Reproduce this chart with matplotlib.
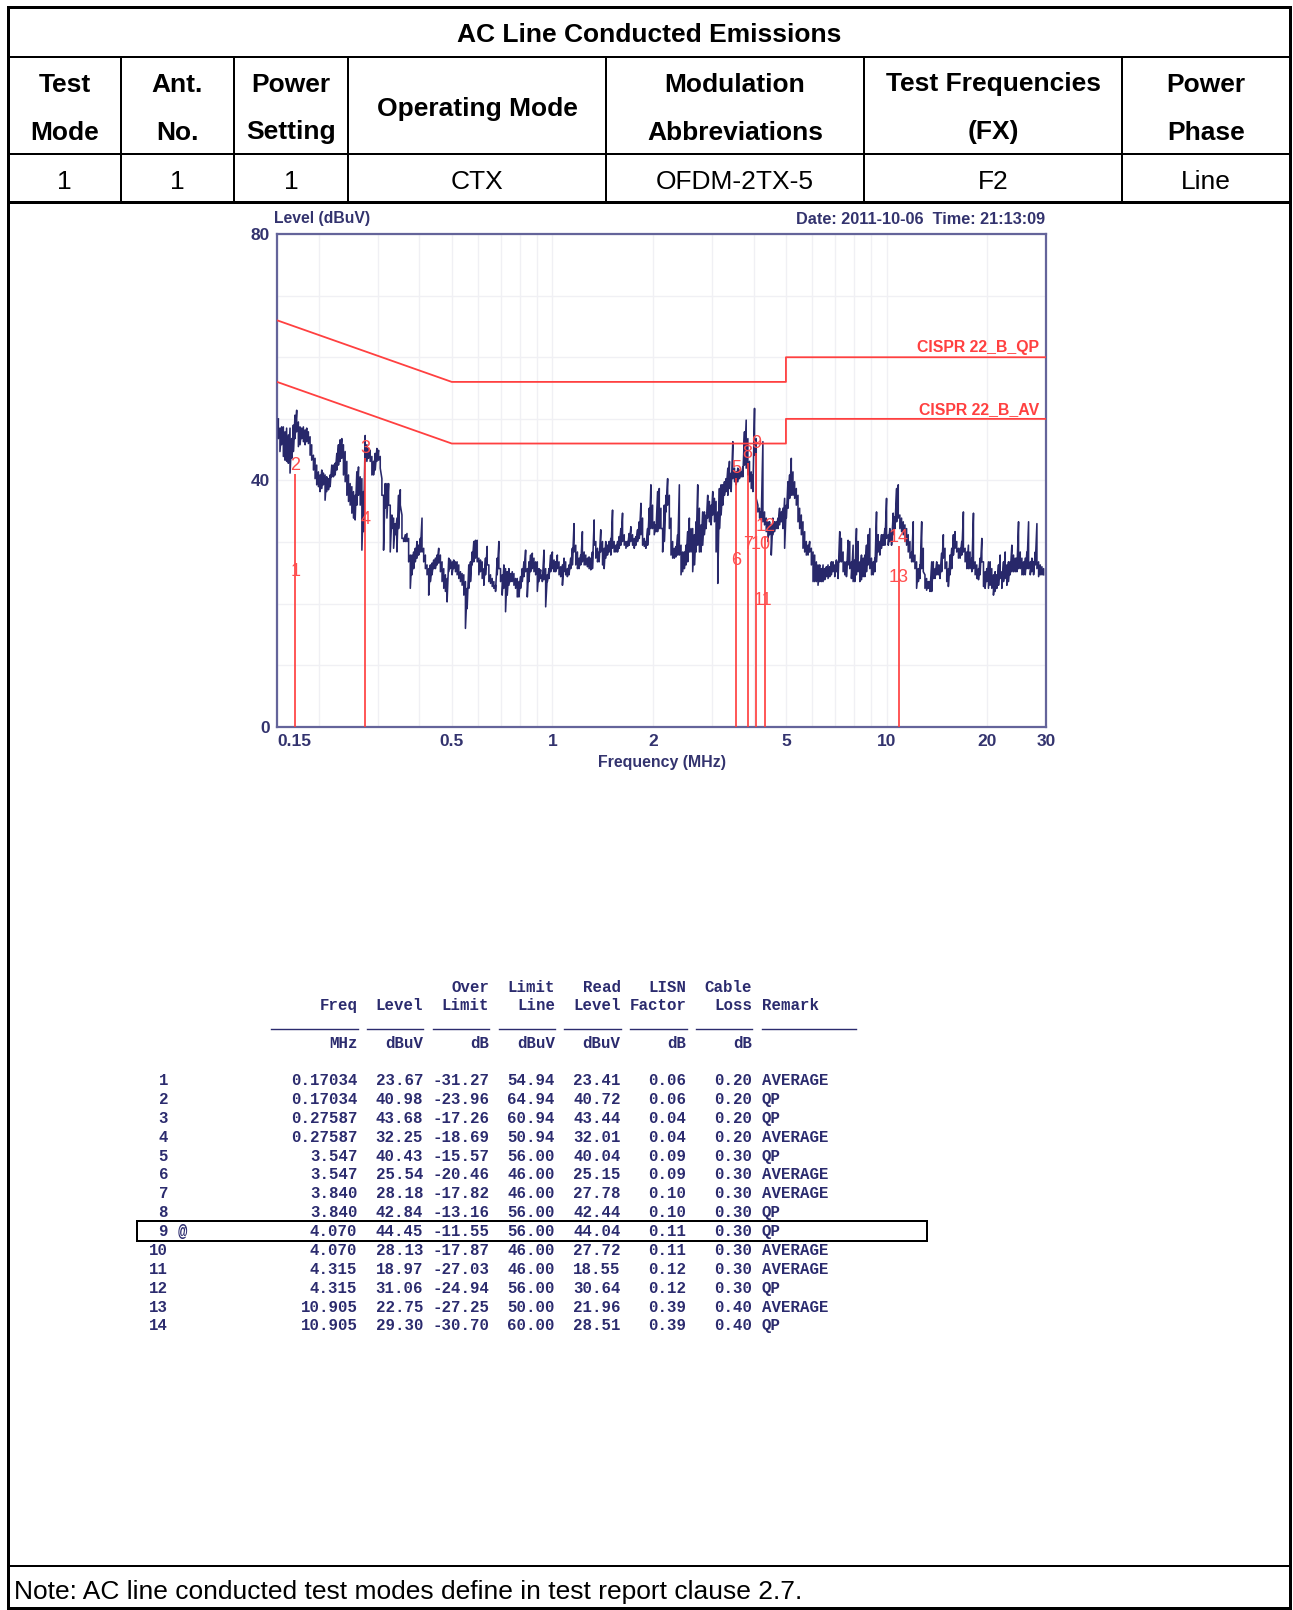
import matplotlib
matplotlib.use("Agg")
import matplotlib.pyplot as plt
from matplotlib.patches import Rectangle
from matplotlib.ticker import NullFormatter

# ---------------- report header ----------------
title = "AC Line Conducted Emissions"
head_cols = [("Test", "Mode"), ("Ant.", "No."), ("Power", "Setting"),
             ("Operating Mode",), ("Modulation", "Abbreviations"),
             ("Test Frequencies", "(FX)"), ("Power", "Phase")]
row_vals = ["1", "1", "1", "CTX", "OFDM-2TX-5", "F2", "Line"]
note = "Note: AC line conducted test modes define in test report clause 2.7."
scan_date = "Date: 2011-10-06  Time: 21:13:09"

# ---------------- CISPR 22 class B limits ----------------
limit_freq = [0.15, 0.5, 5, 5, 30]
qp_limit = [66, 56, 56, 60, 60]
av_limit = [56, 46, 46, 50, 50]

# ---------------- marker results ----------------
mk_freq = [0.17034, 0.17034, 0.27587, 0.27587, 3.547, 3.547, 3.840, 3.840,
           4.070, 4.070, 4.315, 4.315, 10.905, 10.905]
mk_level = [23.67, 40.98, 43.68, 32.25, 40.43, 25.54, 28.18, 42.84,
            44.45, 28.13, 18.97, 31.06, 22.75, 29.30]
mk_over = [-31.27, -23.96, -17.26, -18.69, -15.57, -20.46, -17.82, -13.16,
           -11.55, -17.87, -27.03, -24.94, -27.25, -30.70]
mk_limit = [54.94, 64.94, 60.94, 50.94, 56.00, 46.00, 46.00, 56.00,
            56.00, 46.00, 46.00, 56.00, 50.00, 60.00]
mk_read = [23.41, 40.72, 43.44, 32.01, 40.04, 25.15, 27.78, 42.44,
           44.04, 27.72, 18.55, 30.64, 21.96, 28.51]
mk_lisn = [0.06, 0.06, 0.04, 0.04, 0.09, 0.09, 0.10, 0.10,
           0.11, 0.11, 0.12, 0.12, 0.39, 0.39]
mk_cable = [0.20, 0.20, 0.20, 0.20, 0.30, 0.30, 0.30, 0.30,
            0.30, 0.30, 0.30, 0.30, 0.40, 0.40]
mk_remark = ["AVERAGE", "QP", "QP", "AVERAGE", "QP", "AVERAGE", "AVERAGE",
             "QP", "QP", "AVERAGE", "AVERAGE", "QP", "AVERAGE", "QP"]
worst_mk = 9

# ---------------- peak scan (MHz / dBuV), max and min per sweep bin ----------------
sweep_low = [
    0.1514, 0.1531, 0.1549, 0.1567,
    0.1585, 0.1603, 0.1622, 0.1641, 0.1660, 0.1679, 0.1698, 0.1718, 0.1738, 0.1758,
    0.1778, 0.1799, 0.1820, 0.1841, 0.1862, 0.1884, 0.1905, 0.1928, 0.1950, 0.1972,
    0.1995, 0.2018, 0.2042, 0.2065, 0.2089, 0.2113, 0.2138, 0.2163, 0.2188, 0.2213,
    0.2239, 0.2265, 0.2291, 0.2317, 0.2344, 0.2371, 0.2399, 0.2427, 0.2455, 0.2483,
    0.2512, 0.2541, 0.2570, 0.2600, 0.2630, 0.2661, 0.2692, 0.2723, 0.2754, 0.2786,
    0.2818, 0.2851, 0.2884, 0.2917, 0.2951, 0.2985, 0.3020, 0.3055, 0.3090, 0.3126,
    0.3162, 0.3199, 0.3236, 0.3273, 0.3311, 0.3350, 0.3388, 0.3428, 0.3467, 0.3508,
    0.3548, 0.3589, 0.3631, 0.3673, 0.3715, 0.3758, 0.3802, 0.3846, 0.3890, 0.3936,
    0.3981, 0.4027, 0.4074, 0.4121, 0.4169, 0.4217, 0.4266, 0.4315, 0.4365, 0.4416,
    0.4467, 0.4519, 0.4571, 0.4624, 0.4677, 0.4732, 0.4786, 0.4842, 0.4898, 0.4955,
    0.5012, 0.5070, 0.5129, 0.5188, 0.5248, 0.5309, 0.5370, 0.5433, 0.5495, 0.5559,
    0.5623, 0.5689, 0.5754, 0.5821, 0.5888, 0.5957, 0.6026, 0.6095, 0.6166, 0.6237,
    0.6310, 0.6383, 0.6457, 0.6531, 0.6607, 0.6683, 0.6761, 0.6839, 0.6918, 0.6998,
    0.7079, 0.7161, 0.7244, 0.7328, 0.7413, 0.7499, 0.7586, 0.7674, 0.7762, 0.7852,
    0.7943, 0.8035, 0.8128, 0.8222, 0.8318, 0.8414, 0.8511, 0.8610, 0.8710, 0.8810,
    0.8913, 0.9016, 0.9120, 0.9226, 0.9333, 0.9441, 0.9550, 0.9661, 0.9772, 0.9886,
]
sweep_mid = [
    1.000, 1.012, 1.023, 1.035, 1.047, 1.059, 1.072, 1.084, 1.096, 1.109,
    1.122, 1.135, 1.148, 1.161, 1.175, 1.189, 1.202, 1.216, 1.230, 1.245,
    1.259, 1.274, 1.288, 1.303, 1.318, 1.334, 1.349, 1.365, 1.380, 1.396,
    1.413, 1.429, 1.445, 1.462, 1.479, 1.496, 1.514, 1.531, 1.549, 1.567,
    1.585, 1.603, 1.622, 1.641, 1.660, 1.679, 1.698, 1.718, 1.738, 1.758,
    1.778, 1.799, 1.820, 1.841, 1.862, 1.884, 1.905, 1.928, 1.950, 1.972,
    1.995, 2.018, 2.042, 2.065, 2.089, 2.113, 2.138, 2.163, 2.188, 2.213,
    2.239, 2.265, 2.291, 2.317, 2.344, 2.371, 2.399, 2.427, 2.455, 2.483,
    2.512, 2.541, 2.570, 2.600, 2.630, 2.661, 2.692, 2.723, 2.754, 2.786,
    2.818, 2.851, 2.884, 2.917, 2.951, 2.985, 3.020, 3.055, 3.090, 3.126,
    3.162, 3.199, 3.236, 3.273, 3.311, 3.350, 3.388, 3.428, 3.467, 3.508,
    3.548, 3.589, 3.631, 3.673, 3.715, 3.758, 3.802, 3.846, 3.890, 3.936,
    3.981, 4.027, 4.074, 4.121, 4.169, 4.217, 4.266, 4.315, 4.365, 4.416,
    4.467, 4.519, 4.571, 4.624, 4.677, 4.732, 4.786, 4.842, 4.898, 4.955,
    5.012, 5.070, 5.129, 5.188, 5.248, 5.309, 5.370, 5.433, 5.495, 5.559,
    5.623, 5.689, 5.754, 5.821, 5.888, 5.957, 6.026, 6.095, 6.166, 6.237,
    6.310, 6.383, 6.457, 6.531, 6.607, 6.683, 6.761, 6.839, 6.918, 6.998,
    7.079, 7.161, 7.244, 7.328, 7.413, 7.499, 7.586, 7.674, 7.762, 7.852,
    7.943, 8.035, 8.128, 8.222, 8.318, 8.414, 8.511, 8.610, 8.710, 8.810,
    8.913, 9.016, 9.120, 9.226, 9.333, 9.441, 9.550, 9.661, 9.772, 9.886,
]
sweep_high = [
    10.00, 10.12, 10.23, 10.35, 10.47, 10.59, 10.72, 10.84, 10.96, 11.09,
    11.22, 11.35, 11.48, 11.61, 11.75, 11.89, 12.02, 12.16, 12.30, 12.45,
    12.59, 12.74, 12.88, 13.03, 13.18, 13.34, 13.49, 13.65, 13.80, 13.96,
    14.13, 14.29, 14.45, 14.62, 14.79, 14.96, 15.14, 15.31, 15.49, 15.67,
    15.85, 16.03, 16.22, 16.41, 16.60, 16.79, 16.98, 17.18, 17.38, 17.58,
    17.78, 17.99, 18.20, 18.41, 18.62, 18.84, 19.05, 19.28, 19.50, 19.72,
    19.95, 20.18, 20.42, 20.65, 20.89, 21.13, 21.38, 21.63, 21.88, 22.13,
    22.39, 22.65, 22.91, 23.17, 23.44, 23.71, 23.99, 24.27, 24.55, 24.83,
    25.12, 25.41, 25.70, 26.00, 26.30, 26.61, 26.92, 27.23, 27.54, 27.86,
    28.18, 28.51, 28.84, 29.17, 29.51,
]
scan_freq = sweep_low + sweep_mid + sweep_high

scan_hi = [
    50.0, 48.5, 48.7, 48.7, 47.9, 48.5, 47.4, 48.5, 46.8, 49.0,
    50.6, 51.4, 49.5, 48.7, 48.5, 48.7, 48.2, 48.5, 47.9, 47.1,
    45.8, 44.1, 43.6, 42.5, 41.4, 40.9, 41.7, 41.2, 40.9, 40.6,
    40.3, 40.9, 42.5, 42.5, 42.8, 44.4, 45.8, 46.6, 46.8, 45.8,
    44.7, 43.1, 40.9, 39.5, 39.0, 38.2, 37.6, 41.4, 42.2, 40.6,
    40.3, 38.2, 47.3, 45.8, 45.2, 44.9, 43.9, 43.1, 44.4, 45.2,
    44.9, 43.9, 40.3, 37.6, 39.5, 39.5, 39.5, 36.0, 34.4, 33.9,
    33.0, 33.9, 37.6, 38.5, 34.4, 30.6, 31.2, 31.4, 30.6, 27.9,
    27.9, 28.4, 29.0, 30.1, 29.5, 30.6, 33.9, 29.0, 27.9, 26.3,
    25.7, 26.3, 26.6, 27.1, 27.4, 27.9, 29.0, 27.9, 26.8, 25.7,
    24.7, 24.1, 27.4, 27.1, 26.8, 27.1, 26.8, 26.8, 26.3, 25.2,
    24.9, 24.7, 23.6, 22.5, 26.3, 26.8, 28.4, 30.1, 30.3, 30.3,
    27.4, 27.1, 26.8, 25.7, 27.4, 29.3, 26.3, 24.7, 24.1, 23.6,
    23.0, 27.4, 30.1, 25.7, 24.7, 26.3, 25.7, 25.2, 25.7, 24.9,
    25.2, 24.9, 24.1, 24.1, 23.6, 24.4, 25.7, 26.8, 28.7, 25.7,
    26.8, 27.9, 28.2, 27.4, 26.8, 26.8, 25.7, 25.5, 24.7, 28.7,
    25.7, 24.7, 25.7, 27.9, 28.4, 27.1, 26.8, 27.9, 26.8, 26.0,
    26.3, 27.4, 26.8, 25.7, 26.3, 27.4, 29.0, 33.0, 29.5, 28.4,
    27.4, 27.9, 31.7, 28.4, 27.9, 27.4, 27.6, 27.4, 28.4, 33.6,
    30.1, 29.0, 28.4, 32.0, 30.1, 29.0, 30.1, 29.5, 30.1, 30.6,
    35.2, 30.1, 29.5, 30.1, 30.9, 32.2, 34.7, 31.2, 30.1, 30.1,
    31.4, 32.5, 31.2, 30.6, 30.9, 32.0, 33.3, 36.3, 33.9, 30.6,
    30.1, 32.2, 35.5, 39.3, 36.0, 33.3, 32.8, 38.2, 38.7, 35.5,
    32.2, 36.0, 37.6, 40.3, 37.6, 33.9, 30.1, 29.0, 29.3, 31.2,
    39.3, 29.5, 28.4, 28.4, 29.5, 31.7, 33.9, 32.2, 32.2, 31.2,
    33.3, 39.3, 35.5, 32.8, 34.9, 34.9, 34.4, 37.6, 36.6, 36.0,
    38.2, 37.1, 36.6, 34.9, 38.7, 39.3, 39.3, 39.8, 40.3, 42.0,
    43.1, 41.2, 46.3, 42.0, 41.4, 42.0, 41.7, 41.4, 42.2, 47.9,
    49.8, 46.8, 43.1, 41.4, 40.9, 51.7, 46.8, 36.0, 35.5, 34.9,
    46.3, 34.9, 33.9, 33.3, 33.3, 32.8, 33.9, 33.3, 33.3, 33.9,
    35.5, 34.9, 35.5, 37.1, 36.0, 39.8, 40.9, 43.6, 41.4, 39.8,
    38.7, 37.6, 35.5, 34.4, 33.3, 31.7, 30.1, 29.5, 30.1, 29.0,
    28.4, 27.9, 26.8, 26.3, 26.3, 25.7, 26.3, 25.7, 26.0, 26.3,
    26.0, 26.8, 26.8, 26.3, 27.1, 26.8, 31.7, 30.6, 28.4, 26.8,
    26.8, 30.3, 30.1, 26.8, 29.5, 27.1, 32.2, 30.1, 26.8, 27.9,
    27.4, 27.9, 29.5, 31.2, 32.2, 27.4, 26.8, 27.4, 34.9, 31.2,
    30.1, 31.2, 31.2, 32.2, 37.1, 31.2, 32.2, 31.7, 34.7, 34.1,
    38.7, 39.3, 34.4, 33.9, 33.3, 32.8, 32.2, 31.2, 30.1, 28.4,
    33.3, 27.9, 26.8, 25.7, 26.3, 33.3, 29.0, 24.7, 24.1, 23.6,
    23.6, 26.8, 26.8, 25.7, 26.8, 26.3, 26.3, 28.2, 31.2, 29.0,
    26.8, 25.7, 27.9, 29.0, 31.2, 31.7, 30.1, 29.0, 29.0, 30.1,
    34.9, 29.0, 28.4, 29.5, 28.4, 27.4, 34.7, 26.8, 26.3, 25.7,
    27.4, 30.6, 26.8, 25.2, 25.7, 26.8, 26.8, 25.7, 24.7, 25.2,
    24.7, 26.3, 27.9, 25.2, 26.8, 28.4, 26.3, 26.8, 26.8, 29.5,
    27.9, 27.4, 27.4, 33.3, 28.4, 27.4, 26.8, 27.4, 28.4, 33.3,
    26.8, 27.4, 26.8, 28.4, 33.0, 26.8, 26.3, 26.0, 25.7,
]
scan_lo = [
    46.8, 44.7, 45.8, 43.9, 43.3, 43.1, 42.8, 41.2, 43.6, 44.7,
    46.8, 47.9, 45.5, 45.8, 46.8, 46.3, 45.8, 46.3, 46.0, 44.1,
    43.3, 41.7, 40.3, 39.3, 39.0, 38.2, 38.7, 39.3, 36.8, 38.2,
    38.5, 39.0, 40.6, 40.6, 40.9, 41.7, 42.5, 43.1, 43.6, 40.9,
    39.8, 37.6, 36.6, 36.0, 34.7, 33.9, 33.6, 36.0, 37.6, 36.0,
    28.7, 31.7, 43.1, 43.1, 43.6, 43.1, 40.9, 40.9, 41.7, 43.1,
    43.3, 42.0, 37.6, 28.7, 35.5, 33.9, 36.0, 28.4, 32.2, 29.0,
    31.2, 28.4, 32.2, 36.0, 30.6, 30.1, 30.1, 30.1, 26.8, 22.5,
    24.7, 25.7, 26.8, 27.4, 27.9, 28.4, 28.4, 26.8, 25.7, 24.7,
    21.4, 23.6, 24.7, 25.7, 25.7, 26.3, 26.6, 25.2, 23.6, 22.5,
    22.0, 20.3, 25.2, 25.7, 24.7, 25.7, 25.2, 24.7, 24.1, 23.6,
    23.0, 21.4, 16.0, 19.2, 22.5, 23.6, 26.3, 26.8, 27.4, 26.8,
    24.7, 25.2, 24.1, 23.0, 24.7, 26.3, 23.6, 23.3, 22.8, 22.5,
    22.0, 24.7, 25.7, 23.6, 21.4, 22.5, 18.7, 21.4, 23.0, 23.6,
    23.6, 23.0, 22.5, 21.1, 21.1, 22.5, 23.6, 24.4, 25.2, 21.1,
    23.6, 25.2, 25.7, 25.2, 24.7, 22.0, 23.6, 24.1, 23.6, 23.9,
    19.5, 23.6, 24.1, 25.2, 25.7, 25.2, 25.2, 25.7, 24.7, 24.4,
    23.0, 25.2, 24.7, 24.4, 24.7, 25.7, 26.3, 28.4, 26.3, 25.7,
    25.7, 26.3, 26.8, 26.3, 26.3, 26.0, 25.7, 25.5, 25.7, 29.5,
    27.4, 26.8, 26.8, 28.4, 26.3, 25.7, 27.4, 27.9, 28.4, 27.9,
    29.0, 28.4, 28.4, 28.4, 29.0, 29.5, 30.1, 29.5, 29.0, 29.3,
    29.5, 30.1, 29.5, 29.0, 29.5, 30.1, 30.6, 31.2, 29.5, 29.3,
    29.0, 29.5, 31.2, 32.2, 32.2, 31.2, 31.7, 31.7, 32.2, 32.2,
    28.4, 30.1, 34.9, 36.0, 32.2, 27.9, 27.4, 27.4, 27.6, 27.9,
    27.9, 24.7, 25.2, 25.7, 26.3, 26.8, 28.4, 28.4, 25.2, 26.3,
    28.4, 29.5, 28.4, 28.4, 29.5, 31.2, 32.2, 33.9, 33.3, 32.8,
    34.4, 33.3, 28.4, 23.3, 32.2, 34.4, 36.0, 37.6, 38.2, 37.6,
    38.7, 38.2, 40.3, 39.8, 39.3, 39.8, 40.3, 40.6, 40.6, 42.5,
    42.0, 40.9, 39.8, 38.7, 38.2, 44.1, 37.1, 34.9, 33.9, 33.6,
    33.3, 32.8, 31.7, 30.1, 31.2, 27.9, 31.2, 31.7, 32.2, 32.2,
    32.8, 33.3, 32.2, 29.0, 33.9, 35.5, 37.1, 37.6, 37.6, 37.1,
    36.0, 33.3, 32.2, 31.2, 29.0, 28.4, 27.9, 27.9, 28.4, 26.3,
    23.6, 23.6, 23.6, 23.0, 23.6, 23.6, 23.6, 23.9, 24.4, 24.1,
    24.4, 24.7, 25.2, 24.4, 25.2, 24.1, 26.8, 26.8, 25.2, 24.7,
    24.4, 26.3, 25.7, 24.1, 23.6, 23.6, 24.7, 25.2, 23.6, 23.9,
    24.4, 24.4, 25.2, 26.3, 25.7, 24.7, 24.7, 25.2, 26.8, 28.4,
    27.9, 29.0, 29.5, 29.5, 30.6, 29.5, 30.1, 29.5, 31.2, 32.2,
    33.3, 33.9, 32.2, 31.7, 31.2, 30.1, 29.5, 28.4, 27.4, 26.8,
    26.8, 25.7, 22.5, 23.6, 24.1, 25.7, 25.2, 22.5, 22.2, 22.5,
    22.0, 22.0, 24.1, 24.1, 24.7, 24.7, 24.1, 25.2, 27.4, 25.7,
    23.6, 22.8, 24.7, 25.7, 27.9, 29.0, 28.4, 27.4, 27.4, 27.9,
    28.4, 26.8, 25.7, 25.7, 25.7, 25.2, 25.7, 24.7, 24.1, 23.9,
    24.7, 26.8, 22.8, 22.5, 23.6, 22.5, 23.0, 22.5, 21.4, 22.0,
    22.5, 23.0, 24.1, 22.5, 23.6, 24.1, 23.0, 23.6, 24.7, 25.2,
    25.2, 25.2, 25.2, 25.7, 25.7, 24.7, 24.7, 24.7, 25.7, 25.7,
    24.7, 25.2, 24.7, 26.3, 25.7, 24.4, 24.7, 24.7, 24.7,
]

# ---------------- page ----------------
W, H = 1293, 1610
PX = 0.72  # points per pixel at 100 dpi
fig = plt.figure(figsize=(W / 100, H / 100), dpi=100)
page = fig.add_axes([0, 0, 1, 1])
page.set_xlim(0, W)
page.set_ylim(H, 0)
page.axis("off")

sans = "Liberation Sans"
navy = "#33336e"
trace_c = "#28286a"
red = "#ff4040"

def rule(x0, y0, x1, y1, w):
    page.plot([x0, x1], [y0, y1], color="black", lw=w * PX, solid_capstyle="projecting")

# outer frame and grid of the header table
L, R, T, B = 8, 1290, 7, 1608
page.add_patch(Rectangle((L, T), R - L, B - T, fill=False, lw=3 * PX, edgecolor="black"))
rule(L, 57, R, 57, 2)
rule(L, 154, R, 154, 2)
rule(L, 202, R, 202, 3)
rule(L, 1566, R, 1566, 2)
col_x = [L, 121, 234, 348, 606, 864, 1122, R]
for x in col_x[1:-1]:
    rule(x, 57, x, 202, 2)

big = dict(fontsize=19, family=sans)
page.text((L + R) / 2, 35, title, ha="center", va="center", fontweight="bold", **big)
for i, lines in enumerate(head_cols):
    cx = (col_x[i] + col_x[i + 1]) / 2
    if len(lines) == 1:
        page.text(cx, 109, lines[0], ha="center", va="center", fontweight="bold", **big)
    else:
        page.text(cx, 84.5, lines[0], ha="center", va="center", fontweight="bold", **big)
        page.text(cx, 132.5, lines[1], ha="center", va="center", fontweight="bold", **big)
    page.text(cx, 182, row_vals[i], ha="center", va="center", **big)

page.text(14, 1592, note, ha="left", va="center", **big)

# ---------------- emission plot ----------------
ax_l, ax_r, ax_t, ax_b = 277, 1046, 234, 727
ax = fig.add_axes([ax_l / W, 1 - ax_b / H, (ax_r - ax_l) / W, (ax_b - ax_t) / H])
ax.set_xscale("log")
ax.set_xlim(0.15, 30)
ax.set_ylim(0, 80)

ax.set_xticks([0.15, 0.5, 1, 2, 5, 10, 20, 30])
ax.set_xticklabels(["0.15", "0.5", "1", "2", "5", "10", "20", "30"])
ax.set_xticks([0.2, 0.3, 0.4, 0.6, 0.7, 0.8, 0.9, 3, 4, 6, 7, 8, 9], minor=True)
ax.xaxis.set_minor_formatter(NullFormatter())
ax.set_yticks([0, 40, 80])
ax.set_yticks([10, 20, 30, 50, 60, 70], minor=True)
ax.grid(which="both", color="#f0f0f4", lw=1.0)
ax.set_axisbelow(True)
ax.tick_params(which="both", length=0, colors=navy, labelsize=12.5)
ax.tick_params(axis="x", pad=5)
ax.tick_params(axis="y", pad=5)
for lab in ax.get_xticklabels() + ax.get_yticklabels():
    lab.set_fontweight("bold")
    lab.set_family(sans)
ax.get_xticklabels()[0].set_horizontalalignment("left")
for s in ax.spines.values():
    s.set_color("#64649a")
    s.set_linewidth(1.6)

# scan trace: each bin drawn as a vertical stroke between its max and min
tx, ty = [], []
for f, hi, lo in zip(scan_freq, scan_hi, scan_lo):
    tx += [f, f]
    ty += [hi, lo]
ax.plot(tx, ty, color=trace_c, lw=1.15, zorder=3)

# limit lines
ax.plot(limit_freq, qp_limit, color=red, lw=1.3, zorder=4)
ax.plot(limit_freq, av_limit, color=red, lw=1.3, zorder=4)
ax.annotate("CISPR 22_B_QP", xy=(30, qp_limit[-1]), xytext=(-5, 3.5),
            textcoords="offset points", ha="right", va="baseline", color=red,
            fontsize=11.4, fontweight="bold", family=sans)
ax.annotate("CISPR 22_B_AV", xy=(30, av_limit[-1]), xytext=(-5, 3.5),
            textcoords="offset points", ha="right", va="baseline", color=red,
            fontsize=11.4, fontweight="bold", family=sans)

# markers: one stem per frequency up to its highest reading
tops = {}
for f, lv in zip(mk_freq, mk_level):
    tops[f] = max(lv, tops.get(f, 0))
for f, lv in tops.items():
    ax.vlines(f, 0, lv, color="#ff3a3a", lw=1.2, zorder=5)
label_dx = {10: 3.5, 11: -1.0, 12: 1.0}   # nudge crowded labels (points)
for n, (f, lv) in enumerate(zip(mk_freq, mk_level), start=1):
    ax.annotate(str(n), xy=(f, lv + 1.5), xytext=(label_dx.get(n, 0), 0),
                textcoords="offset points", ha="center", va="center",
                color="#ff4d4d", fontsize=13, family=sans, zorder=6)

page.text(274, 219, "Level (dBuV)", ha="left", va="center", fontsize=11.3,
          fontweight="bold", color=navy, family=sans)
page.text(1045, 219, scan_date, ha="right", va="center", fontsize=11.7,
          fontweight="bold", color=navy, family=sans)
page.text((ax_l + ax_r) / 2, 762, "Frequency (MHz)", ha="center", va="center",
          fontsize=11.4, fontweight="bold", color=navy, family=sans)

# ---------------- marker listing ----------------
mono = dict(family="Liberation Mono", fontweight="bold", fontsize=11.3, color="#2b2b6e")
pitch = 9.4
x_idx = 168
x_freq = 357.5
col_r = [x_freq + 7 * pitch * i for i in range(7)]   # Freq .. Cable right edges
x_rem = col_r[-1] + pitch

top_hdr = ["", "", "Over", "Limit", "Read", "LISN", "Cable"]
mid_hdr = ["Freq", "Level", "Limit", "Line", "Level", "Factor", "Loss"]
unit_hdr = ["MHz", "dBuV", "dB", "dBuV", "dBuV", "dB", "dB"]
for xr, a, b, u in zip(col_r, top_hdr, mid_hdr, unit_hdr):
    page.text(xr, 987, a, ha="right", va="center", **mono)
    page.text(xr, 1005.5, b, ha="right", va="center", **mono)
    page.text(xr, 1043, u, ha="right", va="center", **mono)
page.text(x_rem, 1005.5, "Remark", ha="left", va="center", **mono)

# underlines under each heading
ul = [(271, col_r[0])] + [(xr - 6 * pitch, xr) for xr in col_r[1:]] + [(x_rem, x_rem + 10 * pitch)]
for a, b in ul:
    page.plot([a, b], [1029, 1029], color="#2b2b6e", lw=1.0)

row0, dy = 1080.5, 18.88
for i in range(len(mk_freq)):
    y = row0 + i * dy
    f = mk_freq[i]
    fs = f"{f:.5f}" if f < 1 else f"{f:.3f}"
    cells = [fs, f"{mk_level[i]:.2f}", f"{mk_over[i]:.2f}", f"{mk_limit[i]:.2f}",
             f"{mk_read[i]:.2f}", f"{mk_lisn[i]:.2f}", f"{mk_cable[i]:.2f}"]
    page.text(x_idx, y, str(i + 1), ha="right", va="center", **mono)
    for xr, c in zip(col_r, cells):
        page.text(xr, y, c, ha="right", va="center", **mono)
    page.text(x_rem, y, mk_remark[i], ha="left", va="center", **mono)
    if i + 1 == worst_mk:
        page.text(x_idx + pitch, y, "@", ha="left", va="center", **mono)
        page.add_patch(Rectangle((137, y - 10.5), 790, 20, fill=False,
                                 lw=2 * PX, edgecolor="black"))

fig.savefig("out.png", dpi=100)
